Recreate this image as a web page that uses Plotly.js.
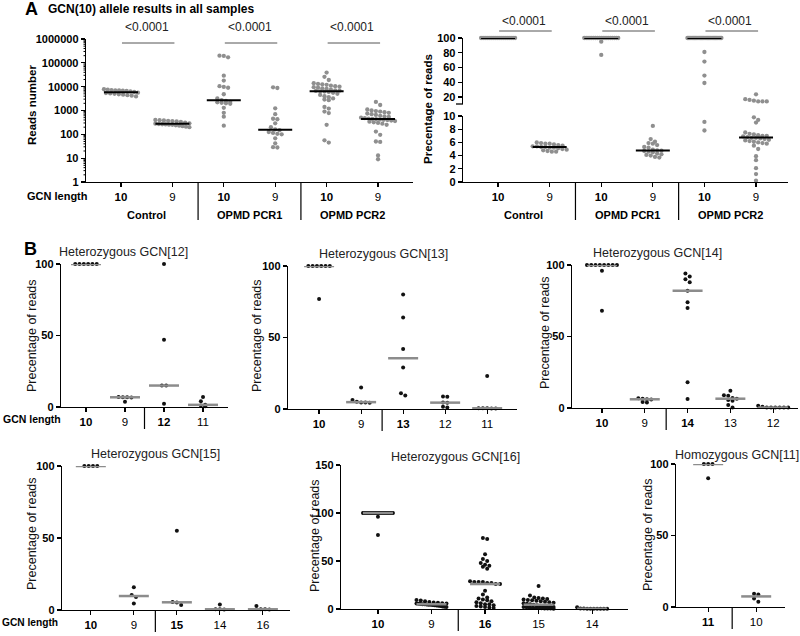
<!DOCTYPE html>
<html><head><meta charset="utf-8">
<script src="https://cdn.plot.ly/plotly-3.0.1.min.js"></script>
<style>html,body{margin:0;padding:0;background:#fff}#chart{width:800px;height:636px}</style>
</head><body><div id="chart"></div>
<script>
// ================= DATA =================
// Panel A
const aCategories = ['10','9','10','9','10','9'];
const aGroups = ['Control','OPMD PCR1','OPMD PCR2'];
const aPValues = ['<0.0001','<0.0001','<0.0001'];
const aTitle = 'GCN(10) allele results in all samples';

const readsCtrl10 = [7800,7500,7200,7000,6900,6800,6600,6300,6000,5600,5400,5200,5000,4800,4600,4400,4200,3900];
const readsCtrl9  = [400,390,380,370,360,350,330,310,290,280,270,265,260,255,250,240,230,220,210,200];
const readsPcr1_10 = [200000,195000,170000,29000,18000,10500,9800,9000,4800,3200,2700,2500,2300,2200,2100,2000,1900,1300,800,550,230];
const readsPcr1_9  = [9400,8800,1230,700,450,430,290,200,160,150,125,115,105,100,68,42,29,28];
const readsPcr2_10 = [39000,26000,19000,14000,13000,12500,12000,11000,10500,10000,9500,9000,8500,8000,7500,7000,6800,6600,6400,6200,6000,5500,5000,4500,4000,3600,3200,2900,2700,1400,1200,900,780,250,56,45];
const readsPcr2_9  = [2300,1700,1100,1000,950,900,850,800,750,700,650,600,560,540,500,480,460,440,430,420,410,400,380,360,340,320,300,280,250,130,95,50,48,13,9];

const pctCtrl10 = [100,100,100,100,100,100,100,100,100,100,100,100,100,100,100,100,100,100];
const pctCtrl9  = [6.0,5.9,5.8,5.8,5.7,5.6,5.5,5.4,5.4,5.3,5.3,5.2,5.2,5.1,5.0,4.9,4.8,4.7,4.6,4.6];
const pctPcr1_10 = [100,100,100,100,100,100,100,100,100,100,100,100,100,100,100,100,100,100,100,95,77];
const pctPcr1_9  = [8.5,6.5,6.1,5.9,5.8,5.6,5.3,5.2,4.9,4.8,4.75,4.7,4.6,4.5,4.3,4.2,4.1,4.0,3.8,3.7];
const pctPcr2_10 = [100,100,100,100,100,100,100,100,100,100,100,100,100,100,100,100,100,100,100,100,100,100,100,100,100,100,100,100,100,100,81,68,49,39,9.1,7.8];
const pctPcr2_9  = [23.6,17,16,15,14,14,14,9.8,9.4,9.0,7.5,7.3,7.2,7.1,7.0,7.0,6.9,6.8,6.7,6.7,6.6,6.5,6.4,6.3,6.2,6.1,6.0,5.9,5.8,5.5,5.0,3.9,3.3,2.1,1.2,0.2];

// Panel B
const bTitles = ['Heterozygous GCN[12]','Heterozygous GCN[13]','Heterozygous GCN[14]','Heterozygous GCN[15]','Heterozygous GCN[16]','Homozygous GCN[11]'];
const b12Cats = ['10','9','12','11'];
const b12_10 = [100,100,100,100,100,100];
const b12_9  = [7.0,6.9,6.8,6.6,3.7];
const b12_12 = [100,47,15,15,2.2];
const b12_11 = [7,4,1.5,1.0,0.5];

const b13Cats = ['10','9','13','12','11'];
const b13_10 = [100,100,100,100,100,100,77];
const b13_9  = [15,6.3,5,4.6,4.5,4.4];
const b13_13 = [80,64,42,29,11,9.5];
const b13_12 = [8.8,8.6,4.6,4.3,1.5,1.0];
const b13_11 = [23,0.6,0.5,0.5,0.4,0.3];

const b14Cats = ['10','9','14','13','12'];
const b14_10 = [100,100,100,100,100,100,100,100,96,68];
const b14_9  = [6.8,6.5,6.2,6.0,4.2,3.8];
const b14_14 = [94,92,90,88,82,74,70,18,6.3];
const b14_13 = [12,9,8.5,7,6.5,5.6,5,2.1,0.3];
const b14_12 = [1.5,0.8,0.3,0.3,0.3,0.3,0.3,0.3];

const b15Cats = ['10','9','15','14','16'];
const b15_10 = [100,100,100,100];
const b15_9  = [15.8,10.4,9.0,4.6];
const b15_15 = [55,5.5,5.2,3.5];
const b15_14 = [3.9,0.5,0.5,0.4];
const b15_16 = [2.8,0.5,0.5,0.4];

const b16Cats = ['10','9','16','15','14'];
const b16_10 = [100,100,100,100,100,100,100,100,100,100,100,100,100,100,100,100,100,100,100,100,100,100,100,100,100,100,100,100,100,100,100,100,100,96,77];
const b16_9  = [9.5,8.8,8,7.2,6.8,6.4,6.1,5.8,5.6,5.4,5.2,5.0,4.9,4.7,4.5,4.3,4.1,3.9,3.6,3.3,3.0,2.7,2.4,2.0];
const b16_16 = [74,73,57,52,50,48,46,45,44,42,29,28,28,28,27,27,26,26,19,15,12,11,10,9,8,7,6,5,5,4,3,2.5,2,1.5,1];
const b16_15 = [24,14,12,11.5,11,10.5,10,9.5,9,8.5,8,7.5,7,6.5,6,5.5,5,4.5,4,3.5,3,2.8,2.5,2.2,2,1.8,1.5,1.3,1.1,1,0.8,0.6,0.5,0.4,0.3];
const b16_14 = [1.8,0.5,0.4,0.3,0.3,0.3,0.3,0.3,0.2,0.2];

const b11Cats = ['11','10'];
const b11_11 = [100,100,100,90];
const b11_10 = [9.2,8.8,6.0,3.7];

// ================= DRAWING =================
const FONT = 'Liberation Sans, Arial, Helvetica, sans-serif';
const W = 800, H = 636;
const fx = p => p / W, fy = p => 1 - p / H;
const traces = [];
const layout = {
  width: W, height: H, margin: {l:0,r:0,t:0,b:0}, autosize: false,
  paper_bgcolor: '#fff', plot_bgcolor: 'rgba(0,0,0,0)', showlegend: false,
  font: {family: FONT, color: '#000'}, annotations: [], shapes: []
};
let axN = 0;

function median(a){const s=[...a].sort((p,q)=>p-q);const n=s.length;return n%2?s[(n-1)/2]:(s[n/2-1]+s[n/2])/2;}
function ann(text, x, y, o){ layout.annotations.push(Object.assign({text:text, x:fx(x), y:fy(y), xref:'paper', yref:'paper', showarrow:false, xanchor:'center', yanchor:'middle', font:{family:FONT,size:12,color:'#000'}}, o||{})); }
function segOf(segs, v){
  if (segs.length === 1) return segs[0];
  for (const s of segs) if (v >= s.range[0] && v <= s.range[1]) return s;
  return v > segs[0].range[1] ? segs[1] : segs[0];
}
function toPx(segs, v){
  const s = segOf(segs, v); const a = s.range[0], b = s.range[1];
  const t = s.type === 'log' ? (Math.log10(v) - a) / (b - a) : (v - a) / (b - a);
  return s.b - t * (s.b - s.t);
}
function swarm(vals, segs, d, maxHalf){
  const pts = vals.map(v => ({v:v, y:toPx(segs, v)})).sort((p,q) => p.y - q.y);
  const rows = []; let cur = null;
  pts.forEach(p => { if (cur && p.y - cur[0].y < d * 0.85) cur.push(p); else { cur = [p]; rows.push(cur); } });
  const out = [];
  rows.forEach((r, ri) => { const n = r.length; const s = n > 1 ? Math.min(d, 2 * maxHalf / (n - 1)) : 0;
    r.forEach((p, k) => out.push({v:p.v, dx:(k - (n - 1) / 2) * s})); });
  return out;
}

function buildPanel(P){
  const xi = ++axN; const xs = xi === 1 ? '' : String(xi);
  const xRef = 'x' + xs;
  const uPerPx = (P.xRange[1] - P.xRange[0]) / (P.xPx[1] - P.xPx[0]);
  P.segs.forEach((s, k) => {
    const yi = k === 0 ? xi : ++axN; const ys = yi === 1 ? '' : String(yi);
    s.ref = 'y' + ys; s.name = 'yaxis' + ys;
    layout[s.name] = {
      domain: [fy(s.b), fy(s.t)], range: s.range, type: s.type || 'linear', anchor: xRef,
      showline: true, linecolor: '#000', linewidth: 1.3, ticks: 'outside', ticklen: 4, tickwidth: 1.2, tickcolor: '#000',
      tickmode: 'array', tickvals: s.ticks, ticktext: s.ticks.map(v => '<b>' + v + '</b>'),
      tickfont: {family: FONT, size: P.yFont, color: '#000'}, showgrid: false, zeroline: false, fixedrange: true
    };
    if (s.minor) s.minor.forEach(v => {
      const py = toPx([s], v);
      layout.shapes.push({type: 'line', xref: 'paper', yref: 'paper', x0: fx(P.xPx[0] - 2.5), x1: fx(P.xPx[0]), y0: fy(py), y1: fy(py), line: {color: '#000', width: 1}});
    });
  });
  layout['xaxis' + xs] = {
    domain: [fx(P.xPx[0]), fx(P.xPx[1])], range: P.xRange, anchor: P.segs[0].ref,
    showline: true, linecolor: '#000', linewidth: 1.3, ticks: 'outside', ticklen: 4, tickwidth: 1.2, tickcolor: '#000',
    tickmode: 'array', tickvals: P.cats.map((c, i) => i),
    ticktext: P.cats.map((c, i) => P.bold.includes(i) ? '<b>' + c + '</b>' : c),
    tickfont: {family: FONT, size: P.xFont, color: '#000'}, showgrid: false, zeroline: false, fixedrange: true
  };
  const perSeg = P.segs.map(() => ({x: [], y: []}));
  P.series.forEach((vals, i) => {
    swarm(vals, P.segs, P.dotD, P.maxHalf).forEach(p => {
      const k = P.segs.indexOf(segOf(P.segs, p.v));
      perSeg[k].x.push(i + p.dx * uPerPx); perSeg[k].y.push(p.v);
    });
  });
  P.segs.forEach((s, k) => traces.push({type: 'scatter', mode: 'markers', x: perSeg[k].x, y: perSeg[k].y, xaxis: xRef, yaxis: s.ref,
    marker: {color: P.dotColor, size: P.dotSize, line: {width: 0}}, cliponaxis: false, hoverinfo: 'skip'}));
  const h = P.medHalf * uPerPx;
  P.series.forEach((vals, i) => {
    const m = median(vals); const s = segOf(P.segs, m);
    traces.push({type: 'scatter', mode: 'lines', x: [i - h, i + h], y: [m, m], xaxis: xRef, yaxis: s.ref,
      line: {color: P.medColor, width: P.medWidth}, cliponaxis: false, hoverinfo: 'skip'});
  });
  const yb = P.segs[0].b;
  P.seps.forEach(sx => layout.shapes.push({type: 'line', xref: xRef, yref: 'paper', x0: sx, x1: sx, y0: fy(yb), y1: fy(yb + P.sepLen), line: {color: '#000', width: 1.2}}));
  P.xRef = xRef;
  return P;
}

// ---------- Panel A left ----------
const minorLog = []; [1,10,100,1000,10000,100000].forEach(b => [2,3,4,5,6,7,8,9].forEach(m => minorLog.push(b*m)));
const A1 = buildPanel({
  xPx: [86, 413], xRange: [-0.68, 5.68],
  segs: [{t: 39, b: 182, range: [0, 6], type: 'log', ticks: [1,10,100,1000,10000,100000,1000000], minor: minorLog}],
  cats: aCategories, bold: [0,2,4], xFont: 11.5, yFont: 11,
  series: [readsCtrl10, readsCtrl9, readsPcr1_10, readsPcr1_9, readsPcr2_10, readsPcr2_9],
  dotColor: '#8f8f8f', dotSize: 4.3, dotD: 4.3, maxHalf: 17, medColor: '#000', medWidth: 2, medHalf: 17,
  seps: [1.5, 3.5], sepLen: 38
});
// ---------- Panel A right (broken axis) ----------
const A2 = buildPanel({
  xPx: [463, 788], xRange: [-0.68, 5.62],
  segs: [{t: 116, b: 182, range: [0, 10], ticks: [0,2,4,6,8,10]}, {t: 38, b: 104, range: [10.5, 100], ticks: [20,40,60,80,100]}],
  cats: aCategories, bold: [0,2,4], xFont: 11.5, yFont: 11,
  series: [pctCtrl10, pctCtrl9, pctPcr1_10, pctPcr1_9, pctPcr2_10, pctPcr2_9],
  dotColor: '#8f8f8f', dotSize: 4.3, dotD: 4.3, maxHalf: 17, medColor: '#000', medWidth: 2, medHalf: 17,
  seps: [1.5, 3.5], sepLen: 38
});
layout.shapes.push({type: 'line', xref: 'paper', yref: 'paper', x0: fx(456), x1: fx(463), y0: fy(104), y1: fy(104), line: {color: '#000', width: 1.3}});

[[A1, 27, 43], [A2, 21, 31]].forEach(([P, ty, ly]) => {
  aGroups.forEach((g, j) => {
    layout.annotations.push({text: '<b>' + g + '</b>', xref: P.xRef, yref: 'paper', x: 2*j + 0.5, y: fy(215), showarrow: false, xanchor: 'center', yanchor: 'middle', font: {family: FONT, size: 11, color: '#000'}});
    layout.annotations.push({text: aPValues[j], xref: P.xRef, yref: 'paper', x: 2*j + 0.5, y: fy(ty), showarrow: false, xanchor: 'center', yanchor: 'middle', font: {family: FONT, size: 12, color: '#222'}});
    layout.shapes.push({type: 'line', xref: P.xRef, yref: 'paper', x0: 2*j + 0.02, x1: 2*j + 1.04, y0: fy(ly), y1: fy(ly), line: {color: '#555', width: 1}});
  });
});
ann('<b>A</b>', 31, 9, {font: {family: FONT, size: 18, color: '#000'}});
ann('<b>' + aTitle + '</b>', 46, 9, {xanchor: 'left', font: {family: FONT, size: 12, color: '#000'}});
ann('<b>Reads number</b>', 32, 105, {textangle: -90, font: {family: FONT, size: 11.5, color: '#000'}});
ann('<b>Precentage of reads</b>', 428, 109, {textangle: -90, font: {family: FONT, size: 11.5, color: '#000'}});
ann('<b>GCN length</b>', 58, 196, {font: {family: FONT, size: 11, color: '#000'}});

// ---------- Panel B ----------
const bBase = {bold: [0,2], xFont: 11.5, yFont: 11, dotColor: '#111', dotSize: 4, dotD: 4.3, maxHalf: 15,
  medColor: '#8c8c8c', medWidth: 2.5, medHalf: 15, seps: [1.5], sepLen: 22};
const bPanels = [
  {xPx: [61, 228], xRange: [-0.64, 3.64], segs: [{t: 264, b: 407, range: [0,100], ticks: [0,50,100]}], cats: b12Cats, series: [b12_10, b12_9, b12_12, b12_11], tt: [123, 252], yl: [32, 336]},
  {xPx: [288, 517], xRange: [-0.74, 4.71], segs: [{t: 266, b: 409, range: [0,100], ticks: [0,50,100]}], cats: b13Cats, series: [b13_10, b13_9, b13_13, b13_12, b13_11], tt: [383, 254], yl: [257, 336]},
  {xPx: [572, 798], xRange: [-0.7, 4.58], segs: [{t: 265, b: 408, range: [0,100], ticks: [0,50,100]}], cats: b14Cats, series: [b14_10, b14_9, b14_14, b14_13, b14_12], tt: [657, 253], yl: [545, 333]},
  {xPx: [62, 290], xRange: [-0.67, 4.63], segs: [{t: 466, b: 610, range: [0,100], ticks: [0,50,100]}], cats: b15Cats, series: [b15_10, b15_9, b15_15, b15_14, b15_16], tt: [155, 454], yl: [32, 534]},
  {xPx: [341, 628], xRange: [-0.69, 4.67], segs: [{t: 465, b: 609, range: [0,150], ticks: [0,50,100,150]}], cats: b16Cats, series: [b16_10, b16_9, b16_16, b16_15, b16_14], tt: [456, 457], yl: [315, 536]},
  {xPx: [676, 785], xRange: [-0.67, 1.6], segs: [{t: 464, b: 607, range: [0,100], ticks: [0,50,100]}], cats: b11Cats, series: [b11_11, b11_10], tt: [737, 455], yl: [648, 535], bold: [0], seps: [0.5]}
];
bPanels.forEach((p, i) => {
  buildPanel(Object.assign({}, bBase, p));
  ann(bTitles[i], p.tt[0], p.tt[1], {font: {family: FONT, size: 12.5, color: '#222'}});
  ann('Precentage of reads', p.yl[0], p.yl[1], {textangle: -90, font: {family: FONT, size: 12.5, color: '#111'}});
});
ann('<b>B</b>', 30, 249, {font: {family: FONT, size: 18, color: '#000'}});
ann('<b>GCN length</b>', 1, 419, {xanchor: 'left', font: {family: FONT, size: 10.5, color: '#000'}});
ann('<b>GCN length</b>', 0, 622, {xanchor: 'left', font: {family: FONT, size: 10.2, color: '#000'}});

Plotly.newPlot('chart', traces, layout, {staticPlot: true, displayModeBar: false});
</script>
</body></html>
